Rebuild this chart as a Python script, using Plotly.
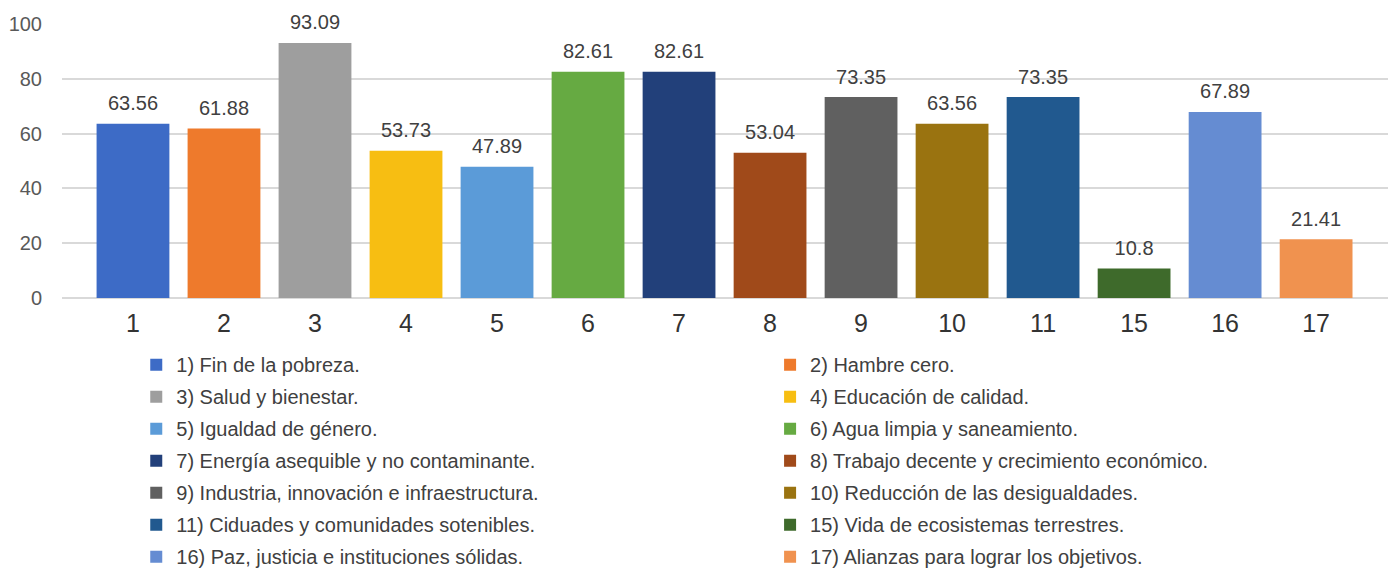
import plotly.graph_objects as go

categories = ["1", "2", "3", "4", "5", "6", "7", "8", "9", "10", "11", "15", "16", "17"]
values = [63.56, 61.88, 93.09, 53.73, 47.89, 82.61, 82.61, 53.04, 73.35, 63.56, 73.35, 10.8, 67.89, 21.41]
names = [
    "1) Fin de la pobreza.",
    "2) Hambre cero.",
    "3) Salud y bienestar.",
    "4) Educación de calidad.",
    "5) Igualdad de género.",
    "6) Agua limpia y saneamiento.",
    "7) Energía asequible y no contaminante.",
    "8) Trabajo decente y crecimiento económico.",
    "9) Industria, innovación e infraestructura.",
    "10) Reducción de las desigualdades.",
    "11) Ciduades y comunidades sotenibles.",
    "15) Vida de ecosistemas terrestres.",
    "16) Paz, justicia e instituciones sólidas.",
    "17) Alianzas para lograr los objetivos.",
]
colors = [
    "#3D6BC6", "#EE7A2C", "#9E9E9E", "#F7BE12", "#5B9BD8", "#66AA42", "#22407A",
    "#A04A1A", "#606060", "#9A7310", "#21598F", "#3E6A2B", "#658CD2", "#F0924F",
]

fig = go.Figure()
for i, (cat, val, name, color) in enumerate(zip(categories, values, names, colors)):
    # odd entries go to the left legend column, even ones to the right
    fig.add_trace(go.Bar(
        x=[cat],
        y=[val],
        name=name,
        legend="legend" if i % 2 == 0 else "legend2",
        legendgroup=f"g{i}",
        marker_color=color,
        marker_line_width=0,
    ))

# value labels, lifted a bit above the bars with an invisible marker
fig.add_trace(go.Scatter(
    x=categories,
    y=values,
    text=[f"{v:g}" for v in values],
    mode="markers+text",
    textposition="top center",
    textfont=dict(size=20, color="#404040"),
    marker=dict(size=12, color="rgba(0,0,0,0)"),
    showlegend=False,
    hoverinfo="skip",
    cliponaxis=False,
))

legend_style = dict(
    orientation="v",
    xanchor="left",
    y=-0.172,
    yanchor="top",
    font=dict(size=20, color="#404040", family="Liberation Sans, Arial"),
    tracegroupgap=3,
    traceorder="grouped",
    bgcolor="rgba(0,0,0,0)",
)

fig.update_layout(
    width=1397,
    height=569,
    barmode="relative",
    bargap=0.2,
    plot_bgcolor="white",
    paper_bgcolor="white",
    font=dict(family="Liberation Sans, Arial, sans-serif", color="#404040"),
    margin=dict(l=54, r=17, t=16, b=279, autoexpand=False),
    xaxis=dict(
        type="category",
        categoryorder="array",
        categoryarray=categories,
        range=[-0.78, 13.79],
        tickfont=dict(size=25, color="#333333"),
        showline=False,
        ticks="",
        ticklabelstandoff=8,
    ),
    yaxis=dict(
        range=[0, 100],
        dtick=20,
        tickfont=dict(size=20, color="#595959"),
        gridcolor="#D9D9D9",
        gridwidth=2,
        zeroline=True,
        zerolinecolor="#D9D9D9",
        zerolinewidth=2,
        ticks="",
        ticklabelstandoff=19,
    ),
    legend=dict(x=0.056, **legend_style),
    legend2=dict(x=0.534, **legend_style),
    showlegend=True,
)

fig.write_html("out.html")
